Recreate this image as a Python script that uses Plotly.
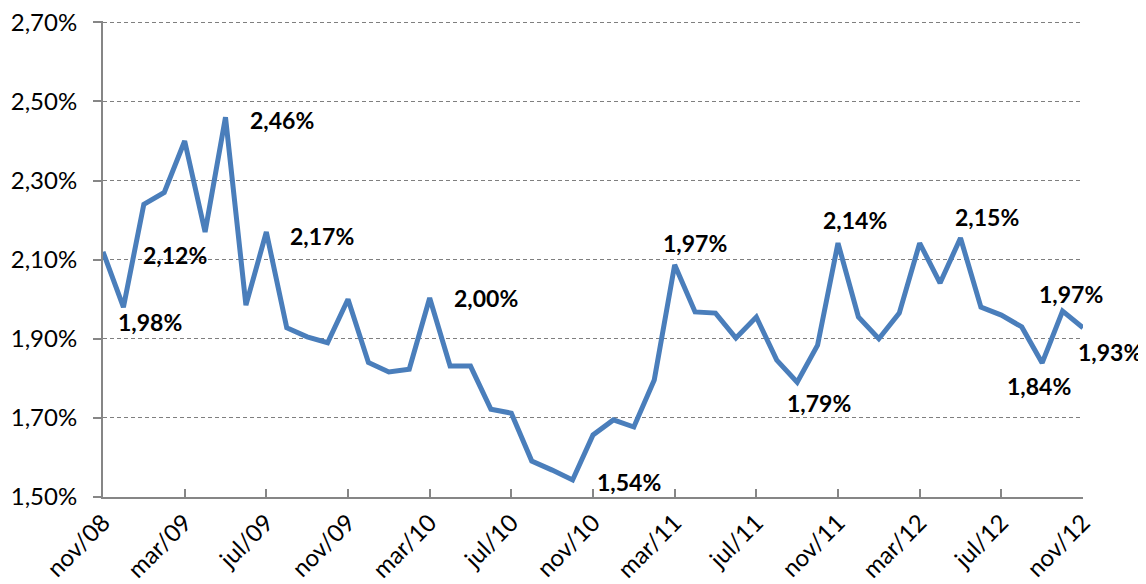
import plotly.graph_objects as go

months = ["nov/08", "dez/08", "jan/09", "fev/09", "mar/09", "abr/09", "mai/09", "jun/09",
          "jul/09", "ago/09", "set/09", "out/09", "nov/09", "dez/09", "jan/10", "fev/10",
          "mar/10", "abr/10", "mai/10", "jun/10", "jul/10", "ago/10", "set/10", "out/10",
          "nov/10", "dez/10", "jan/11", "fev/11", "mar/11", "abr/11", "mai/11", "jun/11",
          "jul/11", "ago/11", "set/11", "out/11", "nov/11", "dez/11", "jan/12", "fev/12",
          "mar/12", "abr/12", "mai/12", "jun/12", "jul/12", "ago/12", "set/12", "out/12",
          "nov/12"]
values = [2.12, 1.98, 2.24, 2.27, 2.40, 2.17, 2.46, 1.985,
          2.17, 1.928, 1.905, 1.89, 2.00, 1.84, 1.816, 1.823,
          2.003, 1.831, 1.831, 1.722, 1.712, 1.591, 1.568, 1.543,
          1.657, 1.695, 1.677, 1.796, 2.087, 1.968, 1.965, 1.902,
          1.955, 1.846, 1.79, 1.884, 2.142, 1.955, 1.90, 1.965,
          2.142, 2.041, 2.155, 1.98, 1.96, 1.93, 1.839, 1.970,
          1.928]

tick_months = ["nov/08", "mar/09", "jul/09", "nov/09", "mar/10", "jul/10", "nov/10",
               "mar/11", "jul/11", "nov/11", "mar/12", "jul/12", "nov/12"]
y_ticks = [1.50, 1.70, 1.90, 2.10, 2.30, 2.50, 2.70]
y_ticktext = ["1,50%", "1,70%", "1,90%", "2,10%", "2,30%", "2,50%", "2,70%"]

# data labels: (month index, text, x shift px, y shift px)
labels = [(0, "2,12%", 72, -3), (1, "1,98%", 27, -15), (6, "2,46%", 56, -3),
          (8, "2,17%", 56, -4), (16, "2,00%", 56, 0), (23, "1,54%", 56, -2),
          (28, "1,97%", 20, 22), (34, "1,79%", 22, -21), (36, "2,14%", 17, 23),
          (42, "2,15%", 26, 21), (46, "1,84%", -3, -23), (47, "1,97%", 8, 17),
          (48, "1,93%", 27, -24)]

fig = go.Figure()
fig.add_trace(go.Scatter(
    x=months, y=values, mode="lines",
    line=dict(color="#4a7ebb", width=5),
    hoverinfo="skip", showlegend=False,
))

for idx, txt, dx, dy in labels:
    fig.add_annotation(
        x=months[idx], y=values[idx], text="<b>" + txt + "</b>",
        showarrow=False, xshift=dx, yshift=dy,
        font=dict(family="Lato, Calibri, sans-serif", size=23, color="#000000"),
        xanchor="center", yanchor="middle",
    )

# page body has an 8px default margin, so the figure is 16px smaller
fig.update_layout(
    width=1138, height=576,
    margin=dict(l=95, r=63, t=13, b=87),
    paper_bgcolor="white", plot_bgcolor="white",
    font=dict(family="Lato, Calibri, sans-serif", color="#000000"),
    xaxis=dict(
        type="category", range=[0, len(months) - 1], automargin=False,
        tickmode="array", tickvals=tick_months, ticktext=tick_months,
        tickangle=-45, tickfont=dict(size=24), ticklabeloverflow="allow",
        ticks="inside", ticklen=8, tickcolor="#868686", tickwidth=1.5,
        showline=True, linecolor="#868686", linewidth=2,
        showgrid=False, zeroline=False,
    ),
    yaxis=dict(
        range=[1.5, 2.7035], tickmode="array", tickvals=y_ticks, ticktext=y_ticktext,
        tickfont=dict(size=24), automargin=False, ticklabelstandoff=11,
        ticklabeloverflow="allow",
        ticks="outside", ticklen=8, tickcolor="#868686", tickwidth=1.5,
        showline=True, linecolor="#868686", linewidth=2,
        showgrid=True, gridcolor="#7f7f7f", gridwidth=1, griddash="4px,3px",
        zeroline=False,
    ),
)

fig.write_html("out.html")
